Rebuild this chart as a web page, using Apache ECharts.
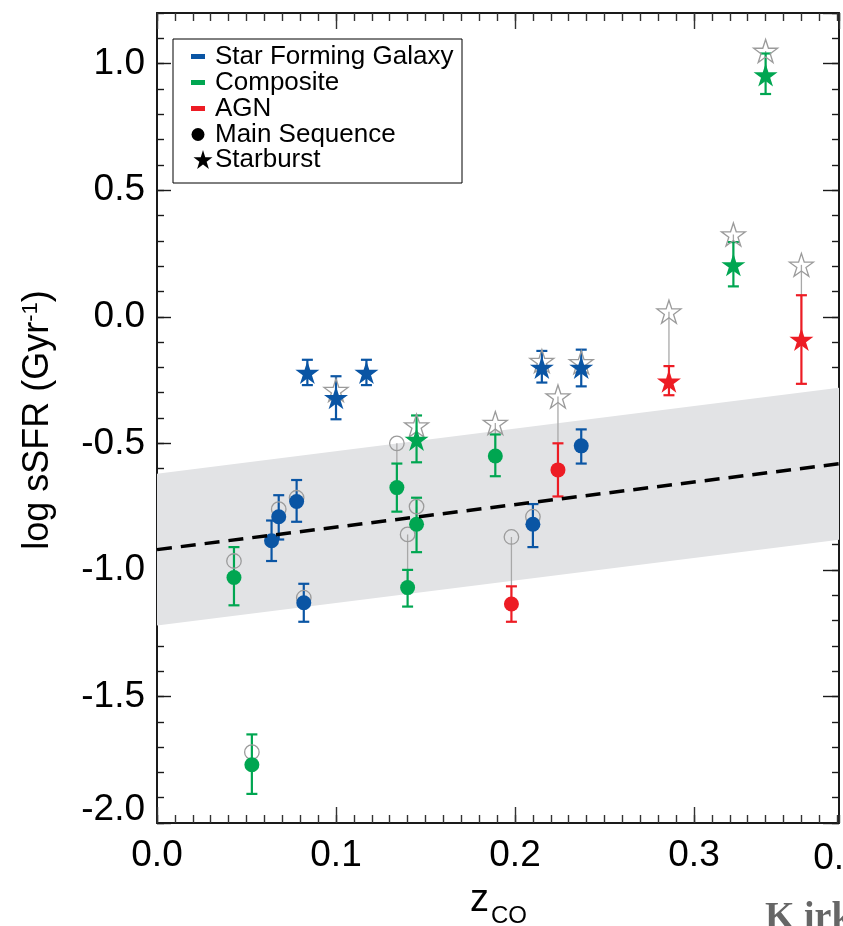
<!DOCTYPE html>
<html>
<head>
<meta charset="utf-8">
<title>log sSFR vs z_CO</title>
<script src="https://cdn.jsdelivr.net/npm/echarts@6/dist/echarts.min.js"></script>
<style>
  html, body { margin: 0; padding: 0; background: #ffffff; }
  #chart { width: 843px; height: 926px; }
</style>
</head>
<body>
<div id="chart"></div>
<script>
// ---- Galaxy measurements -------------------------------------------------
// CO redshift of each galaxy
const zco = [0.043, 0.053, 0.064, 0.068, 0.078, 0.082, 0.084, 0.100, 0.117, 0.134, 0.140, 0.145,
             0.145, 0.189, 0.198, 0.210, 0.215, 0.224, 0.237, 0.237, 0.286, 0.322, 0.340, 0.360];
// corrected log sSFR (Gyr^-1), filled symbols
const ssfr = [-1.03, -1.77, -0.885, -0.79, -0.73, -1.13, -0.22, -0.32, -0.22, -0.675, -1.07, -0.485,
              -0.82, -0.55, -1.135, -0.82, -0.20, -0.605, -0.20, -0.51, -0.255, 0.205, 0.955, -0.09];
// lower / upper ends of the error bars
const errLow = [-1.14, -1.885, -0.965, -0.88, -0.81, -1.205, -0.27, -0.405, -0.27, -0.77, -1.145, -0.575,
                -0.93, -0.63, -1.205, -0.91, -0.26, -0.71, -0.275, -0.58, -0.31, 0.12, 0.88, -0.265];
const errHigh = [-0.91, -1.65, -0.805, -0.705, -0.645, -1.055, -0.17, -0.235, -0.17, -0.58, -1.0, -0.39,
                 -0.715, -0.465, -1.065, -0.74, -0.135, -0.50, -0.13, -0.445, -0.195, 0.295, 1.04, 0.085];
// uncorrected log sSFR, open grey symbols (null = coincides with the filled one)
const ssfrOpen = [-0.965, -1.72, null, -0.76, -0.715, -1.11, null, -0.29, null, -0.50, -0.86, -0.43,
                  -0.75, -0.42, -0.87, -0.79, -0.175, -0.315, -0.18, null, 0.02, 0.325, 1.05, 0.205];
// spectral class: SF = star forming galaxy, Comp = composite, AGN
const agnClass = ['Comp', 'Comp', 'SF', 'SF', 'SF', 'SF', 'SF', 'SF', 'SF', 'Comp', 'Comp', 'Comp',
                  'Comp', 'Comp', 'AGN', 'SF', 'SF', 'AGN', 'SF', 'SF', 'AGN', 'Comp', 'Comp', 'AGN'];
// mode after correction: MS = main sequence, SB = starburst
const mode = ['MS', 'MS', 'MS', 'MS', 'MS', 'MS', 'SB', 'SB', 'SB', 'MS', 'MS', 'SB',
              'MS', 'MS', 'MS', 'MS', 'SB', 'MS', 'SB', 'MS', 'SB', 'SB', 'SB', 'SB'];
// mode before correction (shape of the open symbol)
const modeOpen = ['MS', 'MS', 'MS', 'MS', 'MS', 'MS', 'SB', 'SB', 'SB', 'MS', 'MS', 'SB',
                  'MS', 'SB', 'MS', 'MS', 'SB', 'SB', 'SB', 'MS', 'SB', 'SB', 'SB', 'SB'];

// Main-sequence relation and its scatter (dex)
const FIT_INTERCEPT = -0.92;
const FIT_SLOPE = 0.89;
const FIT_SCATTER = 0.30;

// Axis ranges and tick labels
const X_MIN = 0, X_MAX = 0.381, X_STEP = 0.1, X_MINOR = 0.01;
const Y_MIN = -2.0, Y_MAX = 1.2, Y_STEP = 0.5, Y_MINOR = 0.1;
const legendLabels = ['Star Forming Galaxy', 'Composite', 'AGN', 'Main Sequence', 'Starburst'];

// ---- Styling --------------------------------------------------------------
const FONT = "'Liberation Sans', Arial, Helvetica, sans-serif";
const COLORS = { SF: '#0a55a4', Comp: '#00a651', AGN: '#ed1c24' };
const GREY = '#9b9b9b';
const AXIS_COLOR = '#1a1a1a';
// five-pointed star in a 100-unit box
const STAR_PTS = [[50, 0], [61.23, 34.55], [97.55, 34.55], [68.17, 55.9], [79.39, 90.45],
                  [50, 69.1], [20.61, 90.45], [31.83, 55.9], [2.45, 34.55], [38.77, 34.55]];
const STAR = 'path://M' + STAR_PTS.map(p => p[0] + ' ' + p[1]).join(' L') + ' Z';

const fit = z => FIT_INTERCEPT + FIT_SLOPE * z;
const fmt = v => (Math.abs(v) < 1e-9 ? '0.0' : v.toFixed(1));

const idx = zco.map((_, i) => i);

// ---- Series data ----------------------------------------------------------
const filledCircles = idx.filter(i => mode[i] === 'MS')
  .map(i => ({ value: [zco[i], ssfr[i]], itemStyle: { color: COLORS[agnClass[i]] } }));
const filledStars = idx.filter(i => mode[i] === 'SB')
  .map(i => ({ value: [zco[i], ssfr[i]], itemStyle: { color: COLORS[agnClass[i]] } }));
const openCircles = idx.filter(i => ssfrOpen[i] !== null && modeOpen[i] === 'MS')
  .map(i => [zco[i], ssfrOpen[i]]);
const openStars = idx.filter(i => ssfrOpen[i] !== null && modeOpen[i] === 'SB')
  .map(i => [zco[i], ssfrOpen[i]]);
const connectors = idx.filter(i => ssfrOpen[i] !== null)
  .map(i => [zco[i], ssfrOpen[i], ssfr[i]]);
const errorBars = idx.map(i => [zco[i], errLow[i], errHigh[i]]);

function renderBand(params, api) {
  const pts = [
    [X_MIN, fit(X_MIN) + FIT_SCATTER],
    [X_MAX, fit(X_MAX) + FIT_SCATTER],
    [X_MAX, fit(X_MAX) - FIT_SCATTER],
    [X_MIN, fit(X_MIN) - FIT_SCATTER]
  ].map(p => api.coord(p));
  return { type: 'polygon', shape: { points: pts }, style: { fill: '#e2e3e5' } };
}

function renderConnector(params, api) {
  const a = api.coord([api.value(0), api.value(1)]);
  const b = api.coord([api.value(0), api.value(2)]);
  return { type: 'line', shape: { x1: a[0], y1: a[1], x2: b[0], y2: b[1] },
           style: { stroke: '#a8a8a8', lineWidth: 1.3 } };
}

function renderErrorBar(params, api) {
  const x = api.value(0);
  const lo = api.coord([x, api.value(1)]);
  const hi = api.coord([x, api.value(2)]);
  const half = 5.5;
  const style = { stroke: COLORS[agnClass[params.dataIndex]], lineWidth: 2.2 };
  return {
    type: 'group',
    children: [
      { type: 'line', shape: { x1: lo[0], y1: lo[1], x2: hi[0], y2: hi[1] }, style },
      { type: 'line', shape: { x1: lo[0] - half, y1: lo[1], x2: lo[0] + half, y2: lo[1] }, style },
      { type: 'line', shape: { x1: hi[0] - half, y1: hi[1], x2: hi[0] + half, y2: hi[1] }, style }
    ]
  };
}

// ---- Axes (ticks on all four sides, pointing inwards) ----------------------
function xAxisDef(position, interval, tickLen, withLine, withLabels) {
  return {
    type: 'value', position, min: X_MIN, max: X_MAX, interval,
    axisLine: { show: withLine, onZero: false, lineStyle: { color: AXIS_COLOR, width: 2 } },
    axisTick: { show: true, inside: true, length: tickLen, lineStyle: { color: '#333', width: 1.4 } },
    axisLabel: withLabels ? {
      show: true, margin: 14, showMaxLabel: false, color: '#000',
      fontSize: 37, fontFamily: FONT, formatter: fmt
    } : { show: false },
    splitLine: { show: false }
  };
}
function yAxisDef(position, interval, tickLen, withLine, withLabels) {
  return {
    type: 'value', position, min: Y_MIN, max: Y_MAX, interval,
    axisLine: { show: withLine, onZero: false, lineStyle: { color: AXIS_COLOR, width: 2 } },
    axisTick: { show: true, inside: true, length: tickLen, lineStyle: { color: AXIS_COLOR, width: 1.4 } },
    axisLabel: withLabels ? {
      show: true, margin: 12, showMaxLabel: false, showMinLabel: true, color: '#000',
      fontSize: 37, fontFamily: FONT,
      formatter: v => (Math.abs(v - Y_MIN) < 1e-9 ? '{low|' + fmt(v) + '}' : fmt(v)),
      rich: { low: { fontSize: 37, fontFamily: FONT, color: '#000', padding: [0, 0, 26, 0] } }
    } : { show: false },
    splitLine: { show: false }
  };
}

const chart = echarts.init(document.getElementById('chart'), null, { renderer: 'canvas' });

const legendRows = [56.5, 82.5, 108.5, 134.5, 160];
const legendStar = STAR_PTS.map(p => [193 + p[0] * 0.2, legendRows[4] - 10 + p[1] * 0.21]);
const legendGraphics = [
  { type: 'rect', shape: { x: 173, y: 39, width: 289, height: 144 },
    style: { fill: '#ffffff', stroke: '#000000', lineWidth: 1 }, z: 100 },
  ...['SF', 'Comp', 'AGN'].map((k, j) => ({
    type: 'rect', shape: { x: 191, y: legendRows[j] - 2.5, width: 14, height: 5 },
    style: { fill: COLORS[k] }, z: 101
  })),
  { type: 'circle', shape: { cx: 198, cy: legendRows[3], r: 6.5 }, style: { fill: '#000' }, z: 101 },
  { type: 'polygon', shape: { points: legendStar }, style: { fill: '#000' }, z: 101 },
  ...legendLabels.map((t, j) => ({
    type: 'text', x: 215, y: legendRows[j], z: 101,
    style: { text: t, fill: '#000', font: '26px ' + FONT, verticalAlign: 'middle' }
  }))
];

const option = {
  animation: false,
  backgroundColor: '#ffffff',
  grid: { left: 157, right: 4, top: 13, bottom: 103, containLabel: false },
  xAxis: [
    xAxisDef('bottom', X_STEP, 16, true, true),
    xAxisDef('bottom', X_MINOR, 8, false, false),
    xAxisDef('top', X_STEP, 16, true, false),
    xAxisDef('top', X_MINOR, 8, false, false)
  ],
  yAxis: [
    yAxisDef('left', Y_STEP, 14, true, true),
    yAxisDef('left', Y_MINOR, 7, false, false),
    yAxisDef('right', Y_STEP, 16, true, false),
    yAxisDef('right', Y_MINOR, 7, false, false)
  ],
  series: [
    { name: 'scatter band', type: 'custom', renderItem: renderBand, data: [[X_MIN, FIT_INTERCEPT]],
      silent: true, clip: true },
    { name: 'main sequence', type: 'line', symbol: 'none', silent: true,
      data: [[X_MIN, fit(X_MIN)], [X_MAX, fit(X_MAX)]],
      lineStyle: { color: '#000', width: 3.5, type: [15, 9] } },
    { name: 'shift', type: 'custom', renderItem: renderConnector, data: connectors, silent: true },
    { name: 'uncorrected MS', type: 'scatter', symbol: 'circle', symbolSize: 14.5, data: openCircles,
      itemStyle: { color: 'rgba(0,0,0,0)', borderColor: GREY, borderWidth: 1.3, opacity: 1 } },
    { name: 'uncorrected SB', type: 'scatter', symbol: STAR, symbolSize: [24, 23], data: openStars,
      itemStyle: { color: 'rgba(0,0,0,0)', borderColor: GREY, borderWidth: 1.3, opacity: 1 } },
    { name: 'errors', type: 'custom', renderItem: renderErrorBar, data: errorBars, silent: true },
    { name: 'Main Sequence', type: 'scatter', symbol: 'circle', symbolSize: 15, data: filledCircles,
      itemStyle: { opacity: 1 } },
    { name: 'Starburst', type: 'scatter', symbol: STAR, symbolSize: [24, 23], data: filledStars,
      itemStyle: { opacity: 1 } }
  ],
  graphic: [
    // y axis title
    { type: 'text', x: 38, y: 420, rotation: Math.PI / 2,
      style: {
        text: '{a|log sSFR (Gyr}{b|-1}{a|)}', align: 'center', verticalAlign: 'middle',
        rich: {
          a: { fontSize: 36, fontFamily: FONT, fill: '#000', verticalAlign: 'bottom' },
          b: { fontSize: 22, fontFamily: FONT, fill: '#000', verticalAlign: 'top' }
        }
      } },
    // x axis title
    { type: 'text', x: 470, y: 901, style: { text: 'z', font: '38px ' + FONT, fill: '#000', verticalAlign: 'middle' } },
    { type: 'text', x: 491, y: 916, style: { text: 'CO', font: '24px ' + FONT, fill: '#000', verticalAlign: 'middle' } },
    // neighbouring panel's first tick label and caption
    { type: 'text', x: 839, y: 859, style: { text: '0.0', font: '37px ' + FONT, fill: '#000', align: 'center', verticalAlign: 'middle' } },
    { type: 'text', x: 765, y: 937, style: { text: 'K irkpatrick', font: 'bold 38px "Liberation Serif", serif', fill: '#666', verticalAlign: 'bottom' } },
    ...legendGraphics
  ]
};

chart.setOption(option);
</script>
</body>
</html>
